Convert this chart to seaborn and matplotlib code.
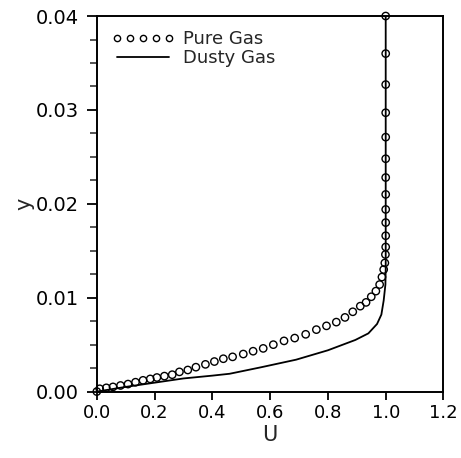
import matplotlib
matplotlib.use("Agg")
import matplotlib.pyplot as plt
import seaborn as sns
from matplotlib.lines import Line2D
from matplotlib.ticker import MultipleLocator

# Pure Gas (open circles)
pure_u = [0.0, 0.010, 0.033, 0.056, 0.082, 0.108, 0.134, 0.160, 0.185, 0.208, 0.234,
          0.261, 0.286, 0.315, 0.343, 0.376, 0.407, 0.438, 0.470, 0.507, 0.541,
          0.576, 0.611, 0.648, 0.685, 0.723, 0.760, 0.795, 0.829, 0.859, 0.886,
          0.912, 0.932, 0.950, 0.966, 0.979, 0.987, 0.993, 0.997, 0.999, 1.0,
          1.0, 1.0, 1.0, 1.0, 1.0, 1.0, 1.0, 1.0, 1.0, 1.0, 1.0]
pure_y = [0.0, 0.0003, 0.0004, 0.0005, 0.00065, 0.0008, 0.0010, 0.0012, 0.00135, 0.0015,
          0.00165, 0.0018, 0.0021, 0.0023, 0.0026, 0.0029, 0.0032, 0.0035, 0.0037,
          0.0040, 0.0043, 0.0046, 0.0050, 0.0054, 0.0057, 0.0061, 0.0066, 0.0070,
          0.0074, 0.0079, 0.0085, 0.0091, 0.0095, 0.0101, 0.0107, 0.0114, 0.0122,
          0.0130, 0.0137, 0.0146, 0.0154, 0.0166, 0.0180, 0.0194, 0.0210, 0.0228,
          0.0248, 0.0271, 0.0297, 0.0327, 0.0360, 0.0400]

# Dusty Gas (solid line)
dusty_u = [0.0, 0.1, 0.2, 0.3, 0.4, 0.46, 0.57, 0.69, 0.80, 0.895, 0.94, 0.97,
           0.985, 0.993, 0.999, 1.0, 1.0]
dusty_y = [0.0, 0.0005, 0.00095, 0.0014, 0.0017, 0.0019, 0.0026, 0.0034, 0.0044,
           0.0055, 0.0062, 0.0072, 0.0082, 0.0097, 0.0114, 0.0131, 0.0400]

sns.set_style("ticks")
plt.rcParams['font.family'] = ['DejaVu Sans']

fig = plt.figure(figsize=(4.61, 4.58), dpi=100)
ax = fig.add_axes([0.21, 0.145, 0.752, 0.82])

sns.lineplot(x=dusty_u, y=dusty_y, sort=False, estimator=None, color='black',
             linewidth=1.3, ax=ax)
sns.scatterplot(x=pure_u, y=pure_y, marker='o', s=28, facecolor='none',
                edgecolor='black', linewidth=1.0, ax=ax, clip_on=False, zorder=3)

ax.set_xlim(0, 1.2)
ax.set_ylim(0, 0.04)
ax.xaxis.set_major_locator(MultipleLocator(0.2))
ax.yaxis.set_major_locator(MultipleLocator(0.01))
ax.yaxis.set_minor_locator(MultipleLocator(0.0025))
ax.set_xticklabels([f"{v:.1f}" for v in ax.get_xticks()])
ax.set_yticklabels([f"{v:.2f}" for v in ax.get_yticks()])

for s in ax.spines.values():
    s.set_linewidth(1.4)
    s.set_color('black')
ax.tick_params(which='major', length=7, width=1.3, labelsize=14, colors='black')
ax.tick_params(axis='x', which='major', length=6, pad=3, labelsize=13)
ax.tick_params(axis='y', which='major', pad=6)
ax.tick_params(which='minor', length=5, width=1.1)

ax.set_xlabel('U', fontsize=15, labelpad=2)
ax.set_ylabel('y', fontsize=15, labelpad=1)

handles = [Line2D([], [], marker='o', linestyle='none', markerfacecolor='none',
                  markeredgecolor='black', markersize=4.5, markeredgewidth=1.0),
           Line2D([], [], color='black', linewidth=1.3)]
ax.legend(handles, ['Pure Gas', 'Dusty Gas'], loc='upper left', frameon=False,
          numpoints=5, handlelength=3.5, fontsize=13, labelspacing=0.05,
          borderaxespad=0.4, handletextpad=0.5)

fig.savefig('out.png', dpi=100)
